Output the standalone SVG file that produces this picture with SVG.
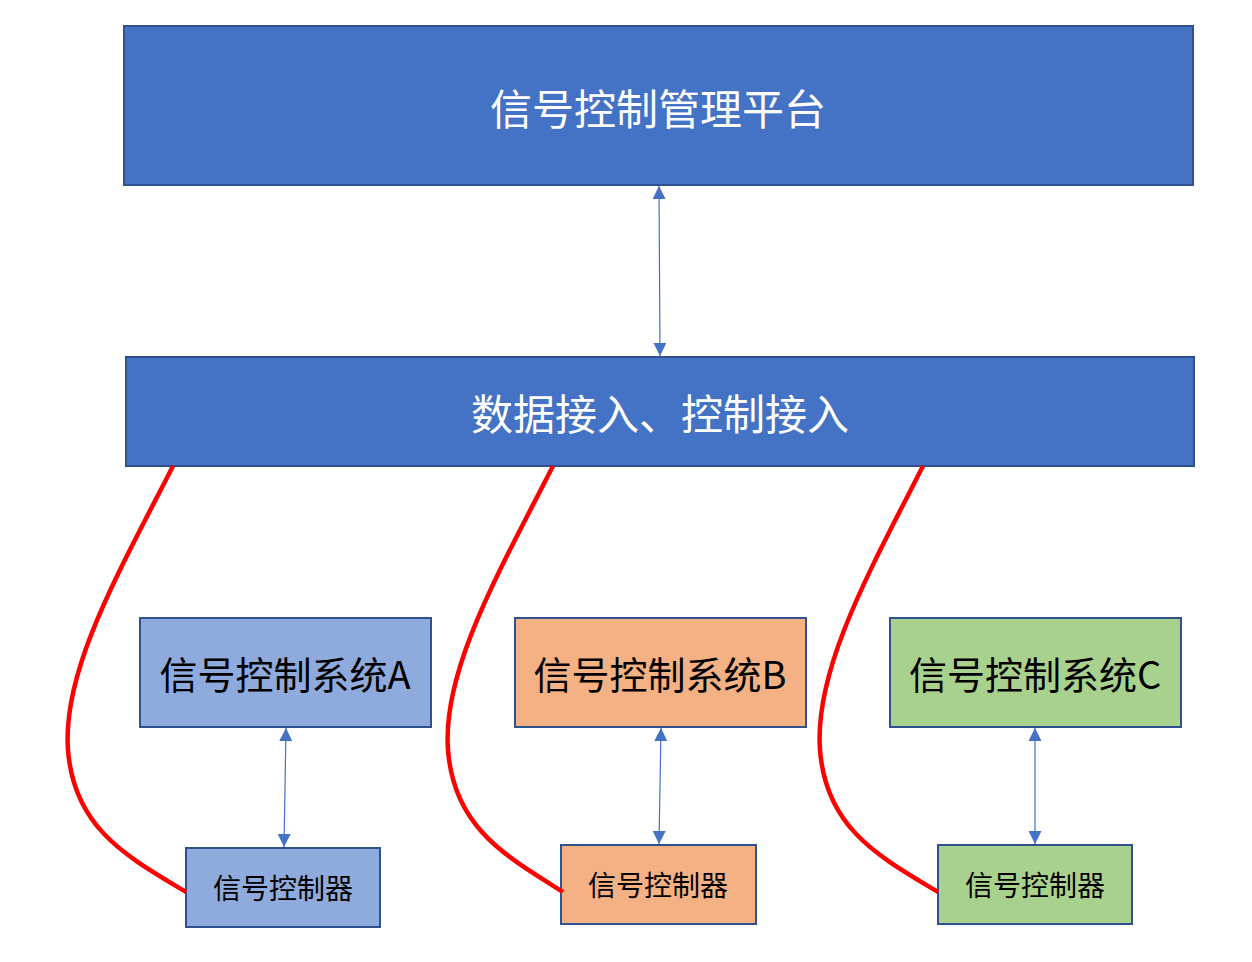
<svg xmlns="http://www.w3.org/2000/svg" width="1252" height="962" viewBox="0 0 1252 962">
<style>
.box{stroke:#2F528F;stroke-width:2}
.blue{fill:#4472C4}
.a{fill:#8FAADC}
.b{fill:#F4B183}
.c{fill:#A9D18E}
text{font-family:"Noto Sans CJK SC","Liberation Sans",sans-serif;text-anchor:middle;dominant-baseline:central}
.w{fill:#fff;font-size:42px}
.s{fill:#000;font-size:38px}
.k{fill:#000;font-size:28px}
.arr{stroke:#4472C4;stroke-width:1.2;fill:none;marker-start:url(#ah);marker-end:url(#ah)}
.red{stroke:#FF0000;stroke-width:4.5;fill:none}
</style>
<defs>
<marker id="ah" viewBox="0 0 10 10" refX="10" refY="5" markerWidth="13" markerHeight="13" markerUnits="userSpaceOnUse" orient="auto-start-reverse">
<path d="M0,0 L10,5 L0,10 Z" fill="#4472C4"/>
</marker>
</defs>
<g id="platform"><rect class="box blue" x="124" y="26" width="1069" height="159"/><text class="w" x="658" y="106">信号控制管理平台</text></g>
<g id="access"><rect class="box blue" x="126" y="357" width="1068" height="109"/><text class="w" x="660" y="411">数据接入、控制接入</text></g>
<g id="sysA"><rect class="box a" x="140" y="618" width="291" height="109"/><text class="s" x="285" y="672">信号控制系统A</text></g>
<g id="sysB"><rect class="box b" x="515" y="618" width="291" height="109"/><text class="s" x="660" y="672">信号控制系统B</text></g>
<g id="sysC"><rect class="box c" x="890" y="618" width="291" height="109"/><text class="s" x="1035" y="672">信号控制系统C</text></g>
<g id="ctrlA"><rect class="box a" x="186" y="848" width="194" height="79"/><text class="k" x="283" y="887">信号控制器</text></g>
<g id="ctrlB"><rect class="box b" x="561" y="845" width="195" height="79"/><text class="k" x="658" y="884">信号控制器</text></g>
<g id="ctrlC"><rect class="box c" x="938" y="845" width="194" height="79"/><text class="k" x="1035" y="884">信号控制器</text></g>
<g id="connectors">
<line class="arr" x1="659" y1="186" x2="660" y2="356"/>
<line class="arr" x1="286" y1="728" x2="284" y2="847"/>
<line class="arr" x1="661" y1="728" x2="659" y2="844"/>
<line class="arr" x1="1035" y1="728" x2="1035" y2="844"/>
<path class="red" d="M173,466 C120,570 62,670 68,750 C74,830 130,858 186,892"/>
<path class="red" d="M553,466 C500,570 442,670 448,750 C454,830 510,858 563,892"/>
<path class="red" d="M923,466 C870,570 814,670 820,750 C826,830 882,858 938,892"/>
</g>
</svg>
